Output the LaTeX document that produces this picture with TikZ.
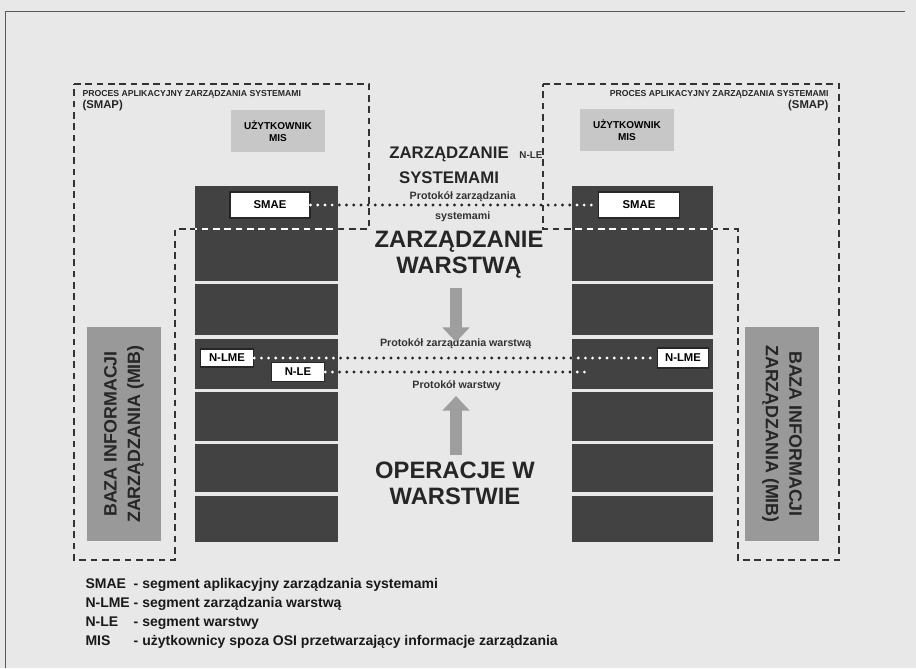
\documentclass[tikz,border=0pt]{standalone}
\usepackage{fontspec}
\setmainfont{Liberation Sans}
\usetikzlibrary{arrows.meta}

\newcommand{\czcionka}[2]{\fontsize{#1}{#2}\selectfont}

\tikzset{every picture/.style={line width=0.75pt}}
\tikzset{
  blok/.style={fill=black!74},
  pudelko/.style={draw=black!85, fill=white, line width=0.8pt, inner sep=0pt, font=\bfseries\czcionka{8.5}{10}},
  ramka/.style={line width=1.2pt, dash pattern=on 5pt off 3.5pt},
  kropki/.style={line width=2.4pt, line cap=round, dash pattern=on 0pt off 5.4pt},
  uzytk/.style={fill=black!22, align=center, font=\bfseries\czcionka{7.5}{9}, minimum width=71pt, minimum height=32pt, inner sep=0pt},
  mib/.style={fill=black!40, align=center, text=black!85, font=\bfseries\czcionka{13.4}{17.5}, minimum width=161pt, minimum height=56pt, inner sep=0pt},
  duzy/.style={align=center, text=black!85, font=\bfseries\czcionka{17.8}{19.5}},
  sredni/.style={align=center, text=black!85, font=\bfseries\czcionka{12.6}{18.7}},
  maly/.style={text=black!80, font=\bfseries\czcionka{8}{9}, inner sep=1pt},
  drobny/.style={text=black!85, font=\bfseries\czcionka{6.5}{7}, inner sep=0pt},
  strzalka/.style={line width=9pt, black!38, -{Triangle[width=20pt,length=11pt]}},
}

\begin{document}
\begin{tikzpicture}[x=0.75pt,y=0.75pt,yscale=-1,xscale=1]
% tlo strony
\fill[black!9] (0,0) rectangle (916,668);
\draw[black!65, line width=0.6pt] (5,668) -- (5,11) -- (905,11);

% stosy warstw
\foreach \xa/\xb in {195/338, 572/713} {
  \fill[blok] (\xa,186) rectangle (\xb,281);
  \foreach \ya/\yb in {284/335, 339/389, 392/441, 444/492, 496/542}
    \fill[blok] (\xa,\ya) rectangle (\xb,\yb);
}

% Text Node
\node[drobny, anchor=west] (procL) at (82,94) {PROCES APLIKACYJNY ZARZĄDZANIA SYSTEMAMI};
\node[drobny, anchor=west, font=\bfseries\czcionka{8.5}{9}] (smapL) at (82,106) {(SMAP)};
\node[drobny, anchor=east] (procR) at (829,94) {PROCES APLIKACYJNY ZARZĄDZANIA SYSTEMAMI};
\node[drobny, anchor=east, font=\bfseries\czcionka{8.5}{9}] (smapR) at (829,106) {(SMAP)};

% uzytkownicy MIS
\node[uzytk] (misL) at (278,131) {UŻYTKOWNIK\\MIS};
\node[uzytk] (misR) at (627,130) {UŻYTKOWNIK\\MIS};

% segmenty
\node[pudelko, minimum width=60pt, minimum height=19.5pt] (smaeL) at (270,205) {SMAE};
\node[pudelko, minimum width=61pt, minimum height=19.5pt] (smaeR) at (639,205) {SMAE};
\node[pudelko, minimum width=40pt, minimum height=13.5pt] (nlmeL) at (227,358) {N-LME};
\node[pudelko, minimum width=40pt, minimum height=14pt] (nleL) at (298,372) {N-LE};
\node[pudelko, minimum width=38pt, minimum height=15pt] (nlmeR) at (683,358) {N-LME};
\coordinate (nleR) at (588,372);

% bazy MIB
\node[mib, rotate=90] (mibL) at (124,434) {BAZA INFORMACJI\\ZARZĄDZANIA (MIB)};
\node[mib, rotate=-90] (mibR) at (782,434) {BAZA INFORMACJI\\ZARZĄDZANIA (MIB)};

% obszary SMAP (przerywane)
\draw[ramka, black!80] (74,84) -- (369,84) -- (369,229) -- (175,229) -- (175,560) -- (74,560) -- cycle;
\draw[ramka, black!80] (543,84) -- (839,84) -- (839,560) -- (738,560) -- (738,229) -- (543,229) -- cycle;

% protokoly
\draw[kropki, black!85] (smaeL.east) -- node[maly, above=0.5pt, pos=0.53] (protSysA) {Protokół zarządzania} node[maly, below=3pt, pos=0.53] (protSysB) {systemami} (smaeR.west);
\draw[kropki, black!85] (nlmeL.east) -- node[maly, above=5pt] (protWarA) {Protokół zarządzania warstwą} (nlmeR.west);
\draw[kropki, black!85] (nleL.east) -- node[maly, below=4pt] (protWarB) {Protokół warstwy} (nleR);

% na ciemnym tle linie sa biale
\begin{scope}
  \clip (195,186) rectangle (338,542) (572,186) rectangle (713,542);
  \draw[ramka, white] (74,84) -- (369,84) -- (369,229) -- (175,229) -- (175,560) -- (74,560) -- cycle;
  \draw[ramka, white] (543,84) -- (839,84) -- (839,560) -- (738,560) -- (738,229) -- (543,229) -- cycle;
  \draw[kropki, white] (smaeL.east) -- (smaeR.west);
  \draw[kropki, white] (nlmeL.east) -- (nlmeR.west);
  \draw[kropki, white] (nleL.east) -- (nleR);
\end{scope}

% Text Node
\node[sredni] (zarzSys) at (449,165) {ZARZĄDZANIE\\SYSTEMAMI};
\node[maly, font=\bfseries\czcionka{7.4}{8}] (nleOpis) at (531,155) {N-LE};
\node[duzy] (zarzWar) at (459,255) {ZARZĄDZANIE\\WARSTWĄ};
\node[duzy] (operWar) at (455,483) {OPERACJE W\\WARSTWIE};

% strzalki
\coordinate (dolA) at (456,288);
\coordinate (dolB) at (456,342);
\coordinate (gorA) at (456,455);
\coordinate (gorB) at (456,396);
\draw[strzalka] (dolA) -- (dolB);
\draw[strzalka] (gorA) -- (gorB);

% legenda
\node[anchor=north west, inner sep=0pt, text=black!90, font=\bfseries\czcionka{10.5}{14.2}] (legenda) at (85,575) {%
\begin{tabular}{@{}l@{\ }l@{}}
SMAE & - segment aplikacyjny zarządzania systemami\\
N-LME & - segment zarządzania warstwą\\
N-LE & - segment warstwy\\
MIS & - użytkownicy spoza OSI przetwarzający informacje zarządzania
\end{tabular}};

\end{tikzpicture}
\end{document}
